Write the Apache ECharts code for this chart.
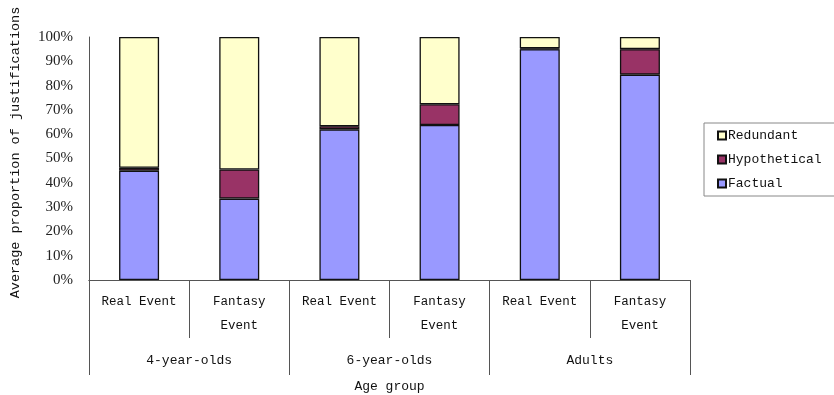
<!DOCTYPE html>
<html>
<head>
<meta charset="utf-8">
<script src="https://cdn.jsdelivr.net/npm/echarts@6/dist/echarts.min.js"></script>
<style>
  html, body { margin: 0; padding: 0; background: #fff; }
  #main { width: 834px; height: 395px; }
</style>
</head>
<body>
<div id="main"></div>
<script>
var conditions = ['Real Event', 'Fantasy\nEvent', 'Real Event', 'Fantasy\nEvent', 'Real Event', 'Fantasy\nEvent'];
var ageGroups = ['4-year-olds', '6-year-olds', 'Adults'];
var legendNames = ['Redundant', 'Hypothetical', 'Factual'];

// percentages
var factual = [45, 33.5, 62, 63.8, 95, 84.5];
var hypothetical = [1.2, 12, 1.3, 8.5, 0.3, 10.5];
var redundant = [53.8, 54.5, 36.7, 27.7, 4.7, 5];

var mono = 'Liberation Mono';

function build() {
    var myChart = echarts.init(document.getElementById('main'));

    var barStyle = function (color) {
        return { color: color, borderColor: '#111', borderWidth: 1.3 };
    };

    var option = {
        animation: false,
        grid: { left: 89, right: 144, top: 37, bottom: 115, outerBoundsMode: 'none', containLabel: false },
        legend: {
            data: legendNames,
            orient: 'vertical',
            left: 704,
            top: 123,
            width: 128,
            padding: [6, 20, 6, 13],
            itemWidth: 8,
            itemHeight: 8,
            itemGap: 11,
            icon: 'rect',
            borderColor: '#888',
            borderWidth: 1,
            textStyle: { fontFamily: mono, fontSize: 13, color: '#111', padding: [0, 0, 0, -3] }
        },
        xAxis: [
            {
                type: 'category',
                data: conditions,
                position: 'bottom',
                axisLine: { show: true, lineStyle: { color: '#555' } },
                axisTick: { show: true, length: 58, interval: 0, lineStyle: { color: '#555' } },
                axisLabel: {
                    interval: 0, margin: 10,
                    fontFamily: mono, fontSize: 12.5, color: '#111', lineHeight: 24
                }
            },
            {
                type: 'category',
                data: ageGroups,
                position: 'bottom',
                axisLine: { show: true, lineStyle: { color: '#555' } },
                axisTick: { show: true, length: 95, interval: 0, lineStyle: { color: '#555' } },
                axisLabel: {
                    interval: 0, margin: 74,
                    fontFamily: mono, fontSize: 13, color: '#111'
                },
                name: 'Age group',
                nameLocation: 'middle',
                nameGap: 100,
                nameTextStyle: { fontFamily: mono, fontSize: 13, color: '#111' }
            }
        ],
        yAxis: {
            type: 'value',
            min: 0,
            max: 100,
            interval: 10,
            splitLine: { show: false },
            axisLine: { show: true, lineStyle: { color: '#555' } },
            axisTick: { show: false },
            axisLabel: {
                formatter: '{value}%', margin: 16,
                fontFamily: 'Liberation Serif', fontSize: 15, color: '#222'
            },
            name: 'Average proportion of justifications',
            nameLocation: 'middle',
            nameGap: 67,
            nameTextStyle: { fontFamily: mono, fontSize: 13.5, color: '#111', padding: [0, 0, 0, 12] }
        },
        series: [
            {
                name: 'Factual', type: 'bar', stack: 'total', barWidth: 40,
                itemStyle: barStyle('#9999FF'), data: factual
            },
            {
                name: 'Hypothetical', type: 'bar', stack: 'total', barWidth: 40,
                itemStyle: barStyle('#993366'), data: hypothetical
            },
            {
                name: 'Redundant', type: 'bar', stack: 'total', barWidth: 40,
                itemStyle: barStyle('#FFFFCC'), data: redundant
            }
        ]
    };

    myChart.setOption(option);
}

build();
</script>
</body>
</html>
